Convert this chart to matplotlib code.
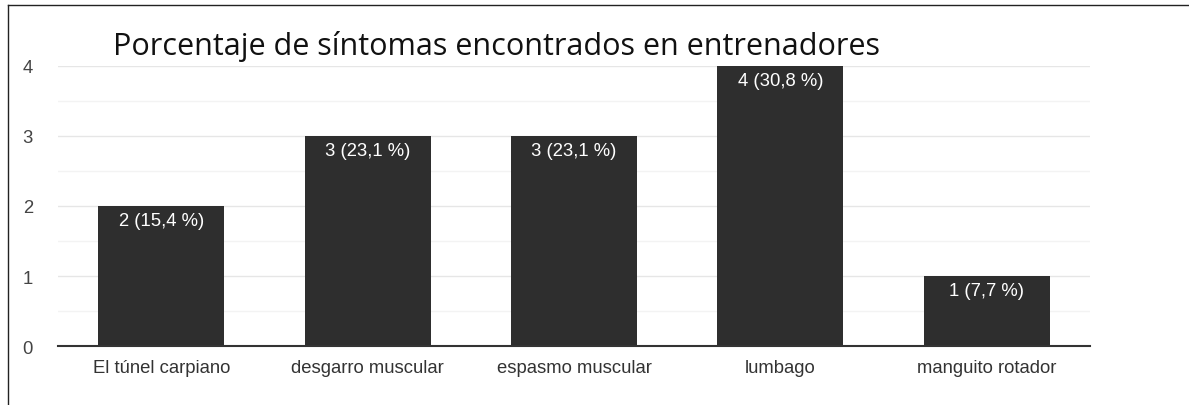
import matplotlib
matplotlib.use('Agg')
import matplotlib.pyplot as plt
from matplotlib.lines import Line2D
from matplotlib.ticker import MultipleLocator

# symptom counts reported by coaches
categories = ['El túnel carpiano', 'desgarro muscular', 'espasmo muscular',
              'lumbago', 'manguito rotador']
counts = [2, 3, 3, 4, 1]
percents = ['15,4', '23,1', '23,1', '30,8', '7,7']
title = 'Porcentaje de síntomas encontrados en entrenadores'

plt.rcParams['font.family'] = ['Liberation Sans', 'DejaVu Sans']

fig = plt.figure(figsize=(11.89, 4.06), dpi=100)
ax = fig.add_axes([0.0488, 0.1453, 0.8679, 0.6897])

x = range(len(categories))
bars = ax.bar(x, counts, width=0.61, color='#2e2e2e', zorder=3)

for b, c, p in zip(bars, counts, percents):
    ax.annotate('{0} ({1} %)'.format(c, p),
                (b.get_x() + b.get_width() / 2, b.get_height()),
                xytext=(0, -4), textcoords='offset points',
                ha='center', va='top', color='white', fontsize=13.3)

ax.set_xlim(-0.5, len(categories) - 0.5)
ax.set_ylim(0, 4)
ax.yaxis.set_major_locator(MultipleLocator(1))
ax.yaxis.set_minor_locator(MultipleLocator(0.5))
ax.grid(which='major', axis='y', color='#e6e6e6', lw=1, zorder=0)
ax.grid(which='minor', axis='y', color='#f3f3f3', lw=1, zorder=0)

ax.set_xticks(list(x))
ax.set_xticklabels(categories, fontsize=13.3, color='#333333')
ax.tick_params(axis='x', length=0, pad=9)
ax.tick_params(axis='y', which='both', length=0, pad=18, labelsize=13.3,
               labelcolor='#444444')

for s in ['top', 'right', 'left']:
    ax.spines[s].set_visible(False)
ax.spines['bottom'].set_color('#333333')
ax.spines['bottom'].set_linewidth(1.5)
ax.spines['bottom'].set_zorder(4)

fig.text(0.095, 0.865, title, fontsize=22, family=['Open Sans', 'DejaVu Sans'],
         color='#111111', ha='left', va='baseline')

# outer frame (top and left edges)
fig.add_artist(Line2D([7.5 / 1189, 7.5 / 1189], [0, 1 - 6 / 406],
                      transform=fig.transFigure, color='#222222', lw=1.0))
fig.add_artist(Line2D([7.5 / 1189, 1], [1 - 6 / 406, 1 - 6 / 406],
                      transform=fig.transFigure, color='#222222', lw=1.0))

fig.savefig('out.png', dpi=100)
